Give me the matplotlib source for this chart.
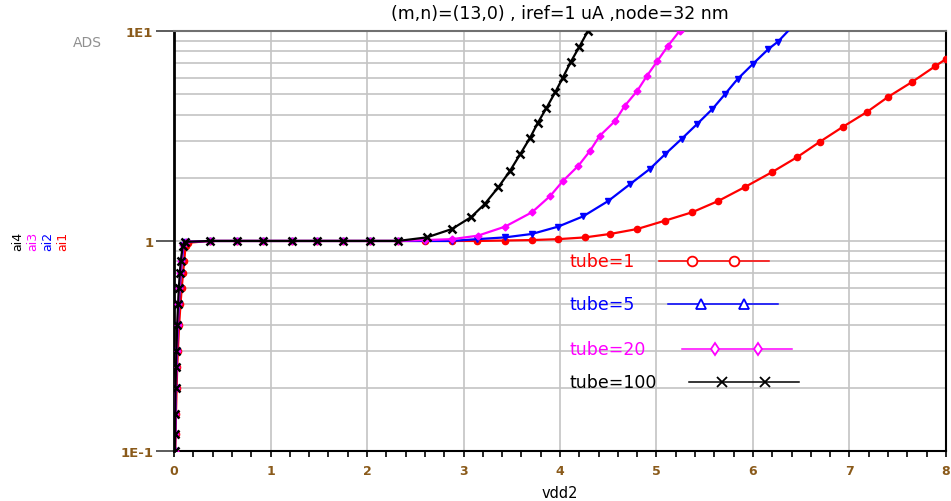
import numpy as np
from matplotlib import pyplot as plt
from matplotlib.ticker import MultipleLocator, LogLocator, NullFormatter

# ai1 : tube=1 (red)
x_ai1 = [0.013, 0.016, 0.02, 0.027, 0.033, 0.04, 0.053, 0.067, 0.08, 0.093, 0.105, 0.12, 0.14,
         0.37, 0.65, 0.92, 1.22, 1.48, 1.75, 2.03, 2.32, 2.6, 2.88, 3.14, 3.43, 3.71, 3.98,
         4.26, 4.52, 4.80, 5.09, 5.37, 5.64, 5.92, 6.20, 6.46, 6.69, 6.93, 7.18, 7.40, 7.65, 7.89, 8.0]
y_ai1 = [0.1, 0.12, 0.15, 0.2, 0.25, 0.3, 0.4, 0.5, 0.6, 0.7, 0.8, 0.95, 0.98,
         1.0, 1.0, 1.0, 1.0, 1.0, 1.0, 1.0, 1.0, 1.0, 1.0, 1.0, 1.005, 1.01, 1.02,
         1.04, 1.08, 1.14, 1.25, 1.37, 1.55, 1.81, 2.13, 2.51, 2.96, 3.49, 4.11, 4.85, 5.72, 6.8, 7.35]

# ai2 : tube=5 (blue)
x_ai2 = [0.01, 0.012, 0.015, 0.02, 0.025, 0.03, 0.04, 0.05, 0.06, 0.07, 0.08, 0.1, 0.12,
         0.37, 0.65, 0.92, 1.22, 1.48, 1.75, 2.03, 2.32, 2.6, 2.88, 3.14, 3.43, 3.71, 3.98,
         4.24, 4.50, 4.73, 4.93, 5.09, 5.26, 5.42, 5.58, 5.71, 5.84, 6.0, 6.16, 6.26, 6.45]
y_ai2 = [0.1, 0.12, 0.15, 0.2, 0.25, 0.3, 0.4, 0.5, 0.6, 0.7, 0.8, 0.96, 0.99,
         1.0, 1.0, 1.0, 1.0, 1.0, 1.0, 1.0, 1.0, 1.0, 1.0, 1.02, 1.04, 1.08, 1.17,
         1.31, 1.55, 1.87, 2.2, 2.59, 3.06, 3.6, 4.25, 5.0, 5.9, 6.97, 8.2, 8.9, 11.0]

# ai3 : tube=20 (magenta)
x_ai3 = [0.009, 0.011, 0.014, 0.018, 0.023, 0.028, 0.037, 0.046, 0.055, 0.065, 0.075, 0.095, 0.12,
         0.37, 0.65, 0.92, 1.22, 1.48, 1.75, 2.03, 2.32, 2.6, 2.88, 3.15, 3.43, 3.71, 3.90,
         4.03, 4.19, 4.31, 4.41, 4.57, 4.67, 4.80, 4.90, 5.01, 5.12, 5.24, 5.35]
y_ai3 = [0.1, 0.12, 0.15, 0.2, 0.25, 0.3, 0.4, 0.5, 0.6, 0.7, 0.8, 0.96, 0.99,
         1.0, 1.0, 1.0, 1.0, 1.0, 1.0, 1.0, 1.0, 1.01, 1.02, 1.06, 1.17, 1.37, 1.64,
         1.93, 2.28, 2.68, 3.16, 3.72, 4.39, 5.18, 6.1, 7.2, 8.5, 10.0, 11.5]

# ai4 : tube=100 (black)
x_ai4 = [0.008, 0.01, 0.012, 0.016, 0.02, 0.025, 0.033, 0.042, 0.05, 0.06, 0.07, 0.09, 0.11,
         0.37, 0.65, 0.92, 1.22, 1.48, 1.75, 2.03, 2.32, 2.62, 2.88, 3.08, 3.22, 3.36, 3.48,
         3.59, 3.69, 3.77, 3.86, 3.95, 4.03, 4.11, 4.20, 4.29, 4.36]
y_ai4 = [0.1, 0.12, 0.15, 0.2, 0.25, 0.3, 0.4, 0.5, 0.6, 0.7, 0.8, 0.95, 0.99,
         1.0, 1.0, 1.0, 1.0, 1.0, 1.0, 1.0, 1.0, 1.04, 1.14, 1.30, 1.5, 1.8, 2.15,
         2.6, 3.1, 3.65, 4.3, 5.1, 6.0, 7.1, 8.4, 10.0, 11.3]

series = [
    ('ai1', 'tube=1', x_ai1, y_ai1, 'red', 'o', 4.5),
    ('ai2', 'tube=5', x_ai2, y_ai2, 'blue', 'v', 5),
    ('ai3', 'tube=20', x_ai3, y_ai3, 'magenta', 'D', 3.5),
    ('ai4', 'tube=100', x_ai4, y_ai4, 'black', 'x', 6),
]
legend_markers = {'red': 'o', 'blue': '^', 'magenta': 'd', 'black': 'x'}
# legend rows (axes fraction): y of row, x where the sample line starts
leg_rows = [0.452, 0.35, 0.243, 0.164]
leg_line_x0 = [0.628, 0.640, 0.658, 0.667]

tick_col = '#8a5a1a'

fig = plt.figure(figsize=(9.51, 5.02), dpi=100)
ax = fig.add_axes([0.183, 0.0996, 0.8117, 0.8368])

for name, lab, xs, ys, col, mk, ms in series:
    ax.plot(xs, ys, color=col, lw=1.6, marker=mk, ms=ms, mew=1.8 if mk == 'x' else 1,
            clip_on=True, zorder=3)

# ADS-style legend: text first, then a sample line with two markers
for (name, lab, xs, ys, col, mk, ms), ly, lx in zip(series, leg_rows, leg_line_x0):
    ax.text(0.5117, ly, lab, color=col, fontsize=12.5, ha='left', va='center',
            transform=ax.transAxes)
    ax.plot([lx, lx + 0.1425], [ly, ly], color=col, lw=1.1, transform=ax.transAxes,
            clip_on=False, zorder=4)
    ax.plot([lx + 0.043, lx + 0.098], [ly, ly], ls='none', marker=legend_markers[col],
            ms=7 if col != 'magenta' else 6, mfc='white' if col != 'black' else col,
            mec=col, mew=1.3, transform=ax.transAxes, clip_on=False, zorder=5)

ax.set_yscale('log')
ax.set_xlim(0, 8)
ax.set_ylim(0.1, 10)

ax.set_yticks([0.1, 1, 10], ['1E-1', '1', '1E1'])
ax.yaxis.set_minor_locator(LogLocator(base=10, subs=np.arange(2, 10)))
ax.yaxis.set_minor_formatter(NullFormatter())
ax.tick_params(axis='y', which='major', length=13, width=1.2, color='#404040',
               labelsize=9.5, labelcolor=tick_col, pad=2)
ax.tick_params(axis='y', which='minor', length=0)

ax.set_xticks(np.arange(0, 9, 1))
ax.xaxis.set_minor_locator(MultipleLocator(0.2))
ax.tick_params(axis='x', which='both', length=4, width=1.2, color='black',
               labelsize=9, labelcolor=tick_col, pad=5)
for lab in ax.get_xticklabels() + ax.get_yticklabels():
    lab.set_fontweight('bold')

ax.grid(True, which='major', color='#c4c4c4', lw=1.2)
ax.grid(True, which='minor', axis='y', color='#c4c4c4', lw=1.2)
ax.set_axisbelow(True)

for s in ['left', 'bottom', 'right']:
    ax.spines[s].set_color('black')
ax.spines['left'].set_linewidth(2)
ax.spines['bottom'].set_linewidth(1.5)
ax.spines['right'].set_linewidth(1.5)
ax.spines['top'].set_color('#707070')
ax.spines['top'].set_linewidth(1.5)

ax.set_title('(m,n)=(13,0) , iref=1 uA ,node=32 nm', fontsize=12.5, pad=9)
ax.set_xlabel('vdd2', fontsize=10.5, labelpad=6)

# stacked y labels on the left
for i, (name, lab, xs, ys, col, mk, ms) in enumerate(reversed(series)):
    fig.text(0.019 + i * 0.0155, 0.52, name, color=col, rotation=90,
             fontsize=9, ha='center', va='center')
fig.text(0.092, 0.915, 'ADS', color='#909090', fontsize=10, ha='center', va='center')

fig.savefig('out.png', dpi=100)
